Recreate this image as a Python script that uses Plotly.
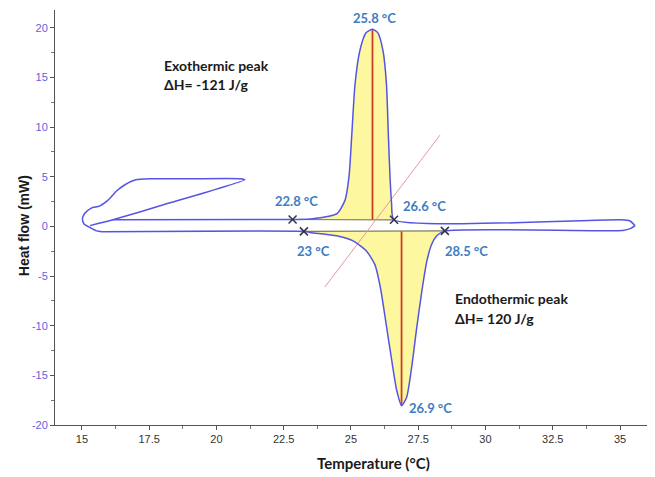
import plotly.graph_objects as go

# ---------------- data ----------------
# start-up transient loop (left side)
start_x = [15.30, 16.15, 18.0, 21.05, 20.9, 19.0, 17.6, 17.0, 16.6, 16.3, 15.95, 15.65, 15.35, 15.1, 15.02, 15.08, 15.3, 15.55, 15.75]
start_y = [0.08, 0.67, 2.15, 4.70, 4.80, 4.80, 4.80, 4.70, 4.20, 3.60, 2.60, 2.05, 1.85, 1.30, 0.75, 0.25, -0.10, -0.45, -0.53]

# heating run (lower curve) with endothermic peak
heat_x = [15.75, 23.30, 23.48, 24.47, 25.08, 25.58, 25.89, 26.10, 26.30, 26.51, 26.70, 26.88,
          27.07, 27.26, 27.44, 27.63, 27.82, 28.00, 28.19, 28.49, 35.10, 35.40, 35.56]
heat_y = [-0.53, -0.50, -0.60, -0.94, -1.46, -2.49, -3.85, -6.25, -9.70, -13.40, -16.50, -18.04,
          -17.20, -14.10, -10.30, -6.60, -3.50, -1.80, -0.94, -0.45, -0.40, -0.20, 0.08]

# cooling run (upper curve) with exothermic peak
cool_x = [35.56, 35.37, 35.00, 26.60, 26.51, 26.45, 26.39, 26.32, 26.19, 26.00, 25.80, 25.56, 25.33,
          25.15, 25.03, 24.93, 24.78, 24.48, 23.59, 22.83, 16.15]
cool_y = [0.08, 0.55, 0.67, 0.67, 2.30, 5.10, 9.20, 14.30, 17.70, 19.50, 19.85, 19.50, 17.70,
          14.30, 9.20, 5.10, 2.65, 1.28, 0.77, 0.70, 0.67]

# integration limits (onset / endset) and peaks
exo_limits_x = [22.83, 26.60]
exo_limits_y = [0.70, 0.67]
endo_limits_x = [23.25, 28.49]
endo_limits_y = [-0.50, -0.45]
exo_peak = (25.80, 19.85, 0.70)
endo_peak = (26.88, -18.04, -0.50)

# tangent construction line
tangent_x = [24.03, 28.31]
tangent_y = [-6.10, 9.20]

# labels
temp_labels = ["25.8 °C", "22.8 °C", "26.6 °C", "23 °C", "28.5 °C", "26.9 °C"]
temp_label_x = [25.89, 22.99, 27.75, 23.59, 29.28, 27.94]
temp_label_y = [21.00, 2.60, 2.10, -2.52, -2.52, -18.24]

x_ticks = [15, 17.5, 20, 22.5, 25, 27.5, 30, 32.5, 35]
x_ticktext = ["15", "17.5", "20", "22.5", "25", "27.5", "30", "32.5", "35"]
y_ticks = [-20, -15, -10, -5, 0, 5, 10, 15, 20]
y_ticktext = ["-20", "-15", "-10", "-5", "0", "5", "10", "15", "20"]

# ---------------- figure ----------------
BLUE = "rgb(85,85,225)"
YELLOW = "rgb(253,248,160)"
RED = "rgb(205,60,35)"
LBLUE = "rgb(60,125,195)"

fig = go.Figure()

# yellow fills (peak segment closed by integration baseline)
exo_idx = [i for i, x in enumerate(cool_x) if 23.5 <= x <= 26.61]
fig.add_trace(go.Scatter(x=[cool_x[i] for i in exo_idx] + [cool_x[exo_idx[0]]],
                         y=[cool_y[i] for i in exo_idx] + [cool_y[exo_idx[0]]],
                         fill="toself", fillcolor=YELLOW, mode="none", hoverinfo="skip"))
endo_idx = [i for i, x in enumerate(heat_x) if 23.2 <= x <= 28.5]
fig.add_trace(go.Scatter(x=[heat_x[i] for i in endo_idx] + [heat_x[endo_idx[0]]],
                         y=[heat_y[i] for i in endo_idx] + [heat_y[endo_idx[0]]],
                         fill="toself", fillcolor=YELLOW, mode="none", hoverinfo="skip"))

# integration baselines
for lx, ly in [(exo_limits_x, exo_limits_y), (endo_limits_x, endo_limits_y)]:
    fig.add_trace(go.Scatter(x=lx, y=ly, mode="lines",
                             line=dict(color="rgb(130,125,95)", width=1.2), hoverinfo="skip"))

# tangent line
fig.add_trace(go.Scatter(x=tangent_x, y=tangent_y, mode="lines",
                         line=dict(color="rgb(235,150,160)", width=1), hoverinfo="skip"))

# peak verticals
for px, py, base in [exo_peak, endo_peak]:
    fig.add_trace(go.Scatter(x=[px, px], y=[base, py], mode="lines",
                             line=dict(color=RED, width=1.8), hoverinfo="skip"))

# curves
for cx, cy in [(start_x, start_y), (heat_x, heat_y), (cool_x, cool_y)]:
    fig.add_trace(go.Scatter(x=cx, y=cy, mode="lines",
                             line=dict(color=BLUE, width=1.5, shape="spline", smoothing=0.6)))

# onset / endset markers
fig.add_trace(go.Scatter(x=exo_limits_x + endo_limits_x, y=exo_limits_y + endo_limits_y,
                         mode="markers",
                         marker=dict(symbol="x-thin", size=8,
                                     line=dict(color="rgb(50,50,80)", width=1.5))))

for t, x, y in zip(temp_labels, temp_label_x, temp_label_y):
    fig.add_annotation(x=x, y=y, text=t, showarrow=False,
                       font=dict(family="Lato", size=13, color=LBLUE, weight="bold"))

for t, x, y in [("Exothermic peak", 17.97, 16.2), ("ΔH= -121 J/g", 17.97, 14.3),
                ("Endothermic peak", 28.79, -7.25), ("ΔH= 120 J/g", 28.79, -9.3)]:
    fig.add_annotation(x=x, y=y, text=t, showarrow=False, xanchor="left",
                       font=dict(family="Lato", size=14, color="#1a1a1a", weight="bold"))

# axis titles
fig.add_annotation(xref="paper", yref="paper", x=(373 - 55) / 600, y=-(465 - 417) / 407,
                   text="Temperature (°C)", showarrow=False,
                   font=dict(family="Lato", size=15, color="#1a1a1a", weight="bold"))
fig.add_annotation(xref="paper", yref="paper", x=-(55 - 14) / 600, y=(417 - 222) / 407,
                   text="Heat flow (mW)", showarrow=False, textangle=-90,
                   font=dict(family="Liberation Sans", size=14, color="#1a1a1a", weight="bold"))

# page body has an 8px offset, so the figure is shifted accordingly
fig.update_layout(
    width=647, height=469,
    margin=dict(l=47, r=0, t=2, b=52),
    paper_bgcolor="white", plot_bgcolor="white",
    showlegend=False,
    xaxis=dict(range=[14.0, 36.3], tickvals=x_ticks, ticktext=x_ticktext, automargin=False,
               showgrid=False, zeroline=False, showline=True, linecolor="#555", linewidth=1,
               ticks="outside", ticklen=4, tickcolor="#555",
               tickfont=dict(family="Liberation Sans Narrow, Liberation Sans", size=11, color="#333"),
               minor=dict(dtick=1.25, tick0=15, ticks="outside", ticklen=3, tickcolor="#777")),
    yaxis=dict(range=[-20, 21.8], tickvals=y_ticks, ticktext=y_ticktext, automargin=False,
               showgrid=False, zeroline=False, showline=True, linecolor="#555", linewidth=1,
               ticks="outside", ticklen=4, tickcolor="#555",
               tickfont=dict(family="Liberation Sans", size=11, color="rgb(95,95,225)"),
               minor=dict(dtick=2.5, tick0=0, ticks="outside", ticklen=3, tickcolor="#777")),
)

fig.write_html("out.html")
